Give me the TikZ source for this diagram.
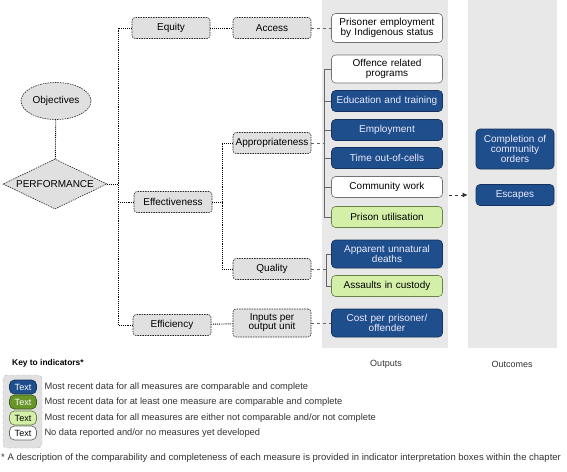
\documentclass[tikz,border=0pt]{standalone}
\usepackage{fontspec}
\setmainfont{Liberation Sans}
\usetikzlibrary{shapes.geometric,arrows.meta}

\definecolor{indblue}{RGB}{31,78,140}
\definecolor{indblueline}{RGB}{22,50,92}
\definecolor{indlight}{RGB}{212,240,168}
\definecolor{indlightline}{RGB}{105,130,70}
\definecolor{indgreen}{RGB}{104,150,40}
\definecolor{indgreenline}{RGB}{60,92,22}
\definecolor{panelgray}{RGB}{232,232,232}

\begin{document}
\begin{tikzpicture}[x=1pt, y=-1pt, font=\fontsize{10}{11}\selectfont,
    midbox/.style={draw=black!85, dash pattern=on 1.5pt off 1pt, fill=black!12, rounded corners=3pt,
        minimum width=78, minimum height=21, inner sep=1pt, align=center, line width=0.6pt},
    outbox/.style={draw=black!55, fill=white, rounded corners=4pt, minimum width=111,
        minimum height=21, inner sep=1pt, align=center, text width=105, line width=0.6pt},
    bluebox/.style={outbox, draw=indblueline, fill=indblue, text=white!92!blue},
    lightbox/.style={outbox, draw=indlightline, fill=indlight},
    keybox/.style={rounded corners=5pt, minimum width=27, minimum height=14, inner sep=0pt,
        font=\fontsize{9}{10}\selectfont, line width=0.7pt},
    trunk/.style={densely dotted, line width=0.9pt, black},
    thinline/.style={black!60, line width=0.6pt},
    keytext/.style={anchor=west, font=\fontsize{9.3}{10}\selectfont, text=black!80}]
\useasboundingbox (0,0) rectangle (567,471);

% panels
\fill[panelgray] (322,0) rectangle (448,348);
\fill[panelgray] (468,0) rectangle (557,348);

% objectives and performance
\node (obj) at (56,101) [ellipse, draw=black!85, dash pattern=on 1.5pt off 1pt, fill=black!12,
    minimum width=70, minimum height=37, inner sep=1pt, line width=0.6pt] {Objectives};
\node (perf) at (55,184) [diamond, aspect=2.1, draw=black!85, dash pattern=on 1.5pt off 1pt,
    fill=black!12, minimum width=104, minimum height=50, inner sep=0pt, line width=0.6pt] {PERFORMANCE};

% domains
\node (equity) at (171,28) [midbox] {Equity};
\node (eff) at (173,202) [midbox] {Effectiveness};
\node (effic) at (172,325) [midbox] {Efficiency};

\node (access) at (272,28) [midbox] {Access};
\node (approp) at (272,143) [midbox] {Appropriateness};
\node (qual) at (272,269) [midbox] {Quality};
\node (inputs) at (272,323) [midbox, minimum height=28] {Inputs per\\[-2pt]output unit};

% outputs
\node (prisoner) at (387,28) [outbox, minimum height=29] {Prisoner employment\\[-1pt]by Indigenous status};
\node (offence) at (387,69) [outbox, minimum height=28] {Offence related\\[-1pt]programs};
\node (educ) at (387,101) [bluebox] {Education and training};
\node (employ) at (387,130) [bluebox] {Employment};
\node (time) at (387,158) [bluebox] {Time out-of-cells};
\node (commw) at (387,187) [outbox] {Community work};
\node (util) at (387,217) [lightbox] {Prison utilisation};
\node (deaths) at (387,254) [bluebox, minimum height=28] {Apparent unnatural\\[-1pt]deaths};
\node (assaults) at (387,286) [lightbox] {Assaults in custody};
\node (cost) at (387,323) [bluebox, minimum height=28] {Cost per prisoner/\\[-1pt]offender};

% outcomes
\node (orders) at (515,149) [bluebox, minimum width=78, text width=74, minimum height=40]
    {Completion of\\[-1pt]community\\[-1pt]orders};
\node (escapes) at (515,195) [bluebox, minimum width=78, text width=74] {Escapes};

% trunk lines
\coordinate (tk) at (118,0);
\coordinate (tkb) at (222,0);
\coordinate (tkc) at (324,0);
\coordinate (tkd) at (326,0);
\coordinate (arr) at (449,195);

\draw [trunk] (obj) -- (perf);
\draw [trunk] (perf.east) -- (perf.east -| tk);
\draw [trunk] (equity.west) -| (tk |- effic.west) -- (effic.west);
\draw [trunk] (tk |- eff.west) -- (eff.west);
\draw [trunk] (equity) -- (access);
\draw [trunk] (effic) -- (inputs);
\draw [trunk] (eff.east) -- (eff.east -| tkb);
\draw [trunk] (approp.west) -| (tkb |- qual.west) -- (qual.west);

% to the outputs
\draw [thinline, dashed] (access) -- (prisoner);
\draw [thinline, dashed] (inputs) -- (cost);
\draw [thinline, dashed] (approp.east) -- (approp.east -| tkc);
\draw [thinline] (offence.west) -| (tkc |- util.west) -- (util.west);
\draw [thinline] (tkc |- educ.west) -- (educ.west);
\draw [thinline] (tkc |- employ.west) -- (employ.west);
\draw [thinline] (tkc |- time.west) -- (time.west);
\draw [thinline] (tkc |- commw.west) -- (commw.west);
\draw [thinline, dashed] (qual.east) -- (qual.east -| tkd);
\draw [thinline] (deaths.west) -| (tkd |- assaults.west) -- (assaults.west);

\draw [dashed, line width=0.8pt, black!80, -{Latex[length=5pt,width=5pt]}, shorten >=8pt] (arr) -- (escapes.west);

% key
\node (keytitle) at (12,363) [anchor=west, inner sep=0pt, font=\bfseries\fontsize{8.4}{10}\selectfont] {Key to indicators*};
\node (outputs) at (386,364) [font=\fontsize{9}{10}\selectfont, text=black!80] {Outputs};
\node (outcomes) at (512,364) [font=\fontsize{9}{10}\selectfont, text=black!80] {Outcomes};

\fill [black!12, rounded corners=4pt, draw=black!30, dashed] (3,375) rectangle (42,448);
\node (kblue) at (23,387) [keybox, draw=indblueline, fill=indblue, text=white] {Text};
\node (kgreen) at (23,402) [keybox, draw=indgreenline, fill=indgreen, text=white] {Text};
\node (klight) at (23,418) [keybox, draw=indlightline, fill=indlight] {Text};
\node (kwhite) at (23,433) [keybox, draw=black!60, fill=white] {Text};

\node at (41,387) [keytext] {Most recent data for all measures are comparable and complete};
\node at (41,402) [keytext] {Most recent data for at least one measure are comparable and complete};
\node at (41,418) [keytext] {Most recent data for all measures are either not comparable and/or not complete};
\node at (41,433) [keytext] {No data reported and/or no measures yet developed};

\node (foot) at (1,458) [anchor=west, inner sep=0pt, font=\fontsize{9.5}{10}\selectfont, text=black!80]
    {* A description of the comparability and completeness of each measure is provided in indicator interpretation boxes within the chapter};

\end{tikzpicture}
\end{document}
